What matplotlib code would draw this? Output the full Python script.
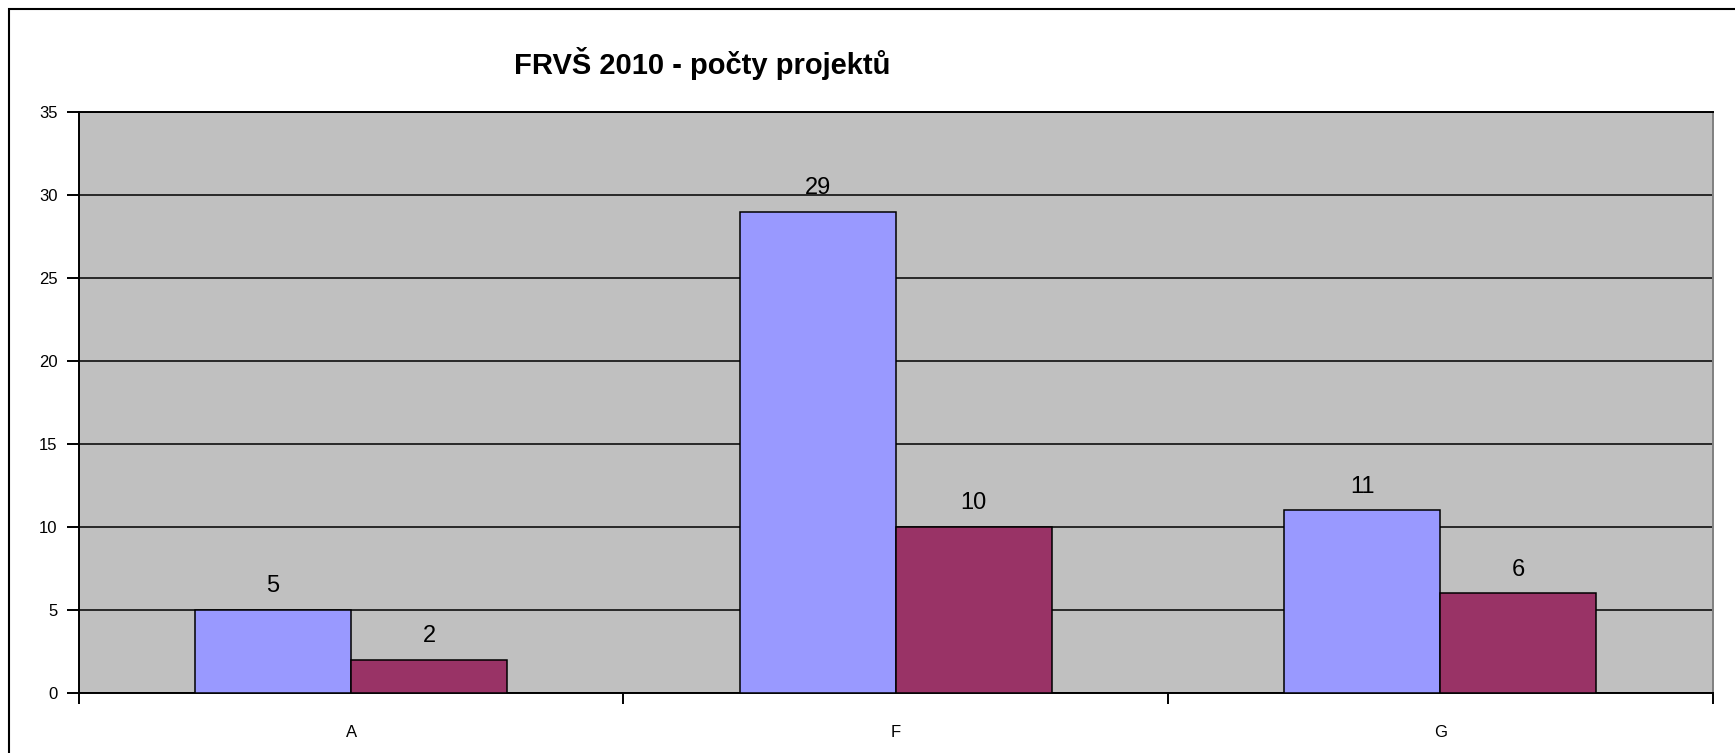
import numpy as np
import matplotlib.pyplot as plt
from matplotlib.patches import Rectangle

plt.rcParams['font.family'] = ['Liberation Sans', 'DejaVu Sans']

# data
categories = ['A', 'F', 'G']
series1 = [5, 29, 11]
series2 = [2, 10, 6]
yticks = [0, 5, 10, 15, 20, 25, 30, 35]

W, H = 1735, 753
fig = plt.figure(figsize=(W / 100, H / 100), dpi=100)
ax = fig.add_axes([78.7 / W, 60.3 / H, 1634 / W, 580.7 / H])
ax.set_facecolor('#C0C0C0')

x = np.arange(len(categories))
w = 0.2866
b1 = ax.bar(x - w / 2, series1, w, color='#9999FF', edgecolor='black', linewidth=1.1, zorder=3)
b2 = ax.bar(x + w / 2, series2, w, color='#993366', edgecolor='black', linewidth=1.1, zorder=3)

for bars, vals in ((b1, series1), (b2, series2)):
    for r, v in zip(bars, vals):
        ax.annotate(str(v), (r.get_x() + r.get_width() / 2, v), xytext=(0, 12.5),
                    textcoords='offset points', ha='center', va='baseline', fontsize=17)

ax.set_xlim(-0.5, len(categories) - 0.5)
ax.set_ylim(0, 35)
ax.set_yticks(yticks)
ax.yaxis.grid(True, color='black', linewidth=1.1, zorder=1)
ax.set_axisbelow(True)

# category labels between boundary ticks
ax.set_xticks(np.arange(len(categories) + 1) - 0.5)
ax.set_xticklabels([])
ax.set_xticks(x, minor=True)
ax.set_xticklabels(categories, minor=True)
ax.tick_params(axis='x', which='major', length=8, width=1.4, direction='out')
ax.tick_params(axis='x', which='minor', length=0, pad=23, labelsize=12)
ax.tick_params(axis='y', length=8.6, width=1.4, pad=6.5, labelsize=12)

for s in ['left', 'bottom', 'top']:
    ax.spines[s].set_linewidth(1.4)
ax.spines['right'].set_color('#808080')
ax.spines['right'].set_linewidth(1.4)

fig.text(702 / W, 1 - 63 / H, 'FRVŠ 2010 - počty projektů', ha='center', va='center',
         fontsize=21, fontweight='bold')

# outer chart frame (runs off the right and bottom edges)
fig.add_artist(Rectangle((8.5 / W, -0.2), 1.2, 1.2 - 9 / H, transform=fig.transFigure,
                         fill=False, edgecolor='black', linewidth=1.5))

fig.savefig('out.png', dpi=100)
